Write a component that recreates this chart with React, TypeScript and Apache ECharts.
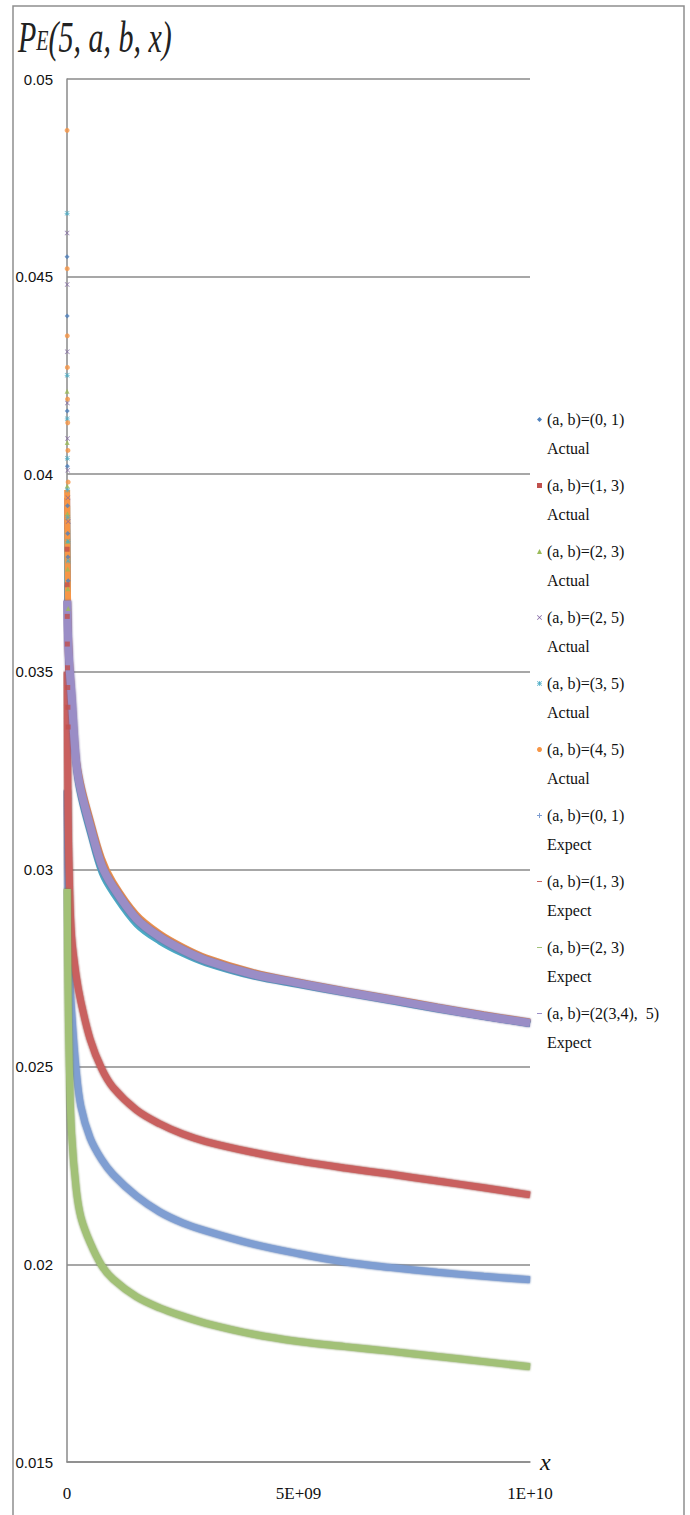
import React, { useEffect, useRef } from 'react';
import * as echarts from 'echarts';

// ---- tick labels ----
const xTickLabels = ['0', '5E+09', '1E+10'];
const yTickLabels = ['0.015', '0.02', '0.025', '0.03', '0.035', '0.04', '0.045', '0.05'];

// ---- legend labels ----
const pairLabels = [
  '(a, b)=(0, 1)', '(a, b)=(1, 3)', '(a, b)=(2, 3)', '(a, b)=(2, 5)', '(a, b)=(3, 5)', '(a, b)=(4, 5)',
  '(a, b)=(0, 1)', '(a, b)=(1, 3)', '(a, b)=(2, 3)', '(a, b)=(2(3,4),  5)',
];
const kindLabels = ['Actual', 'Actual', 'Actual', 'Actual', 'Actual', 'Actual', 'Expect', 'Expect', 'Expect', 'Expect'];

// ---- x positions ----
const xEarly = [2e6, 4e6, 6e6, 8e6, 1.2e7, 1.6e7, 2e7, 2.5e7];
const xActual = [3e6, 1e7, 3e7, 6e7, 1e8, 2e8, 3e8, 5e8, 7.5e8, 1e9, 1.5e9, 2e9, 2.5e9, 3e9, 4e9, 5e9, 6e9, 7e9, 8e9, 9e9, 1e10];
const xExpect = [5e6, 2e7, 5e7, 1e8, 2e8, 3e8, 5e8, 7.5e8, 1e9, 1.5e9, 2e9, 2.5e9, 3e9, 4e9, 5e9, 6e9, 7e9, 8e9, 9e9, 1e10];

// ---- scattered early actual points (near x = 0) ----
const early01 = [0.0455, 0.0440, 0.0416, 0.0402, 0.0392, 0.0385, 0.0379, 0.0373];
const early13 = [0.0381, 0.0372, 0.0364, 0.0357, 0.0351, 0.0346, 0.0341, 0.0336];
const early23 = [0.0421, 0.0408, 0.0397, 0.0390, 0.0383, 0.0376, 0.0371, 0.0366];
const early25 = [0.0461, 0.0448, 0.0431, 0.0418, 0.0409, 0.0401, 0.0394, 0.0388];
const early35 = [0.0466, 0.0425, 0.0414, 0.0404, 0.0396, 0.0389, 0.0383, 0.0378];
const early45 = [0.0487, 0.0452, 0.0435, 0.0427, 0.0419, 0.0413, 0.0406, 0.0398];

// ---- actual curves ----
const actual01 = [0.0388, 0.0372, 0.0358, 0.0349, 0.0343, 0.0326, 0.0319, 0.0310, 0.0300, 0.02948, 0.02870, 0.02825, 0.02793, 0.02767, 0.02733, 0.02710, 0.02688, 0.02668, 0.02647, 0.02627, 0.02609];
const actual13 = [0.0372, 0.0360, 0.0350, 0.0345, 0.0342, 0.0326, 0.0319, 0.0310, 0.0300, 0.02950, 0.02872, 0.02827, 0.02794, 0.02768, 0.02734, 0.02711, 0.02689, 0.02669, 0.02648, 0.02628, 0.02610];
const actual23 = [0.0392, 0.0376, 0.0361, 0.0351, 0.0344, 0.0327, 0.0320, 0.0311, 0.0301, 0.02955, 0.02875, 0.02829, 0.02796, 0.02770, 0.02735, 0.02712, 0.02690, 0.02670, 0.02649, 0.02629, 0.02611];
const actual25 = [0.0394, 0.0378, 0.0362, 0.0352, 0.0344, 0.0328, 0.0321, 0.0312, 0.0302, 0.02958, 0.02878, 0.02832, 0.02798, 0.02772, 0.02737, 0.02714, 0.02692, 0.02672, 0.02651, 0.02631, 0.02613];
const actual35 = [0.0386, 0.0370, 0.0356, 0.0347, 0.0342, 0.0325, 0.0318, 0.0309, 0.0299, 0.02938, 0.02860, 0.02817, 0.02786, 0.02762, 0.02729, 0.02707, 0.02686, 0.02666, 0.02645, 0.02626, 0.02608];
const actual45 = [0.0396, 0.0380, 0.0364, 0.0354, 0.0346, 0.0329, 0.0322, 0.0313, 0.0303, 0.02968, 0.02886, 0.02838, 0.02804, 0.02777, 0.02741, 0.02716, 0.02694, 0.02674, 0.02653, 0.02633, 0.02615];

// ---- expected curves ----
const expect01 = [0.0320, 0.0296, 0.0276, 0.0264, 0.0249, 0.0240, 0.0232, 0.02265, 0.02227, 0.02173, 0.02133, 0.02105, 0.02085, 0.02052, 0.02027, 0.02006, 0.01992, 0.01980, 0.01970, 0.01961];
const expect13 = [0.0350, 0.0318, 0.0298, 0.0283, 0.0273, 0.02665, 0.02570, 0.02495, 0.02447, 0.02391, 0.02356, 0.0233, 0.02311, 0.02284, 0.02262, 0.02244, 0.02228, 0.02211, 0.02194, 0.02176];
const expect23 = [0.0295, 0.0272, 0.0250, 0.0233, 0.0219, 0.0212, 0.02055, 0.01997, 0.01962, 0.01918, 0.01890, 0.01869, 0.01851, 0.01824, 0.01805, 0.01792, 0.01780, 0.01767, 0.01754, 0.01741];
const expect2345 = [0.0368, 0.0360, 0.0352, 0.0344, 0.0327, 0.0320, 0.0311, 0.0301, 0.02955, 0.02875, 0.02829, 0.02796, 0.02770, 0.02735, 0.02712, 0.02690, 0.02670, 0.02649, 0.02629, 0.02611];

const actualCurves = [actual01, actual13, actual23, actual25, actual35, actual45];
const earlyPoints = [early01, early13, early23, early25, early35, early45];
const expectCurves = [expect01, expect13, expect23, expect2345];

const xPath = 'path://M1,0L5,4L9,0L10,1L6,5L10,9L9,10L5,6L1,10L0,9L4,5L0,1Z';
const plusPath = 'path://M4,0H6V4H10V6H6V10H4V6H0V4H4Z';
const starPath = 'path://M4.3,0H5.7V10H4.3Z M0,4.3H10V5.7H0Z M1,0L5,4L9,0L10,1L6,5L10,9L9,10L5,6L1,10L0,9L4,5L0,1Z';
const dashPath = 'path://M0,4H10V6H0Z';

const actualColors = ['#4f81bd', '#c0504d', '#9bbb59', '#8064a2', '#4bacc6', '#f79646'];
const actualSymbols = ['diamond', 'rect', 'triangle', xPath, starPath, 'circle'];
const expectColors = ['#7f9ed2', '#c9615e', '#a2c177', '#9a8dc6'];
const expectEdge = ['#4d6fa8', '#8e2f2c', '#6f8d45', '#6b5c98'];
const expectSymbols = [plusPath, dashPath, dashPath, dashPath];
const expectWidths = [7, 7, 7, 8];

const SERIF = '"Liberation Serif", "Times New Roman", serif';
const SANS = '"Liberation Sans", Arial, sans-serif';

// first (blank) line keeps the legend marker level with the first text line
const seriesNames = pairLabels.map((p, i) => p + '\n' + kindLabels[i]);

export default function App() {
  const ref = useRef<HTMLDivElement>(null);

  useEffect(() => {
    if (!ref.current) return;
    const chart = echarts.init(ref.current, undefined, { renderer: 'svg' });

    const series: any[] = [];
    actualCurves.forEach((vals, i) => {
      series.push({
        name: seriesNames[i],
        type: 'line',
        data: xActual.map((x, k) => [x, vals[k]]),
        showSymbol: false,
        smooth: 0.35,
        lineStyle: { color: actualColors[i], width: 6 },
        itemStyle: { color: actualColors[i] },
        z: 2,
      });
    });
    expectCurves.forEach((vals, i) => {
      series.push({
        name: seriesNames[6 + i],
        type: 'line',
        data: xExpect.map((x, k) => [x, vals[k]]),
        showSymbol: false,
        smooth: 0.35,
        lineStyle: { color: expectColors[i], width: expectWidths[i], shadowColor: expectEdge[i], shadowBlur: 2 },
        itemStyle: { color: expectColors[i] },
        z: 3,
      });
    });
    earlyPoints.forEach((vals, i) => {
      series.push({
        name: seriesNames[i],
        type: 'scatter',
        data: xEarly.map((x, k) => [x, vals[k]]),
        symbol: actualSymbols[i],
        symbolSize: 5,
        itemStyle: { color: actualColors[i] },
        z: 4,
      });
    });

    const legendData = seriesNames.map((name, i) => ({
      name,
      icon: i < 6 ? actualSymbols[i] : expectSymbols[i - 6],
      itemStyle: { color: i < 6 ? actualColors[i] : expectColors[i - 6] },
    }));

    chart.setOption({
      animation: false,
      backgroundColor: '#ffffff',
      grid: { left: 67, right: 160, top: 79, bottom: 53, containLabel: false },
      xAxis: {
        type: 'value',
        min: 0,
        max: 1e10,
        interval: 5e9,
        name: 'x',
        nameLocation: 'end',
        nameGap: 10,
        nameTextStyle: { fontFamily: SERIF, fontStyle: 'italic', fontSize: 24, color: '#111', verticalAlign: 'middle' },
        axisLine: { show: true, onZero: false, lineStyle: { color: '#8a8a8a', width: 1.5 } },
        axisTick: { show: false },
        splitLine: { show: false },
        axisLabel: {
          margin: 23,
          fontFamily: SERIF,
          fontSize: 17,
          color: '#111',
          formatter: (v: number) => xTickLabels[Math.round(v / 5e9)] ?? '',
        },
      },
      yAxis: {
        type: 'value',
        min: 0.015,
        max: 0.05,
        interval: 0.005,
        axisLine: { show: true, lineStyle: { color: '#8a8a8a', width: 1.5 } },
        axisTick: { show: false },
        splitLine: { show: true, lineStyle: { color: '#8a8a8a', width: 1.5 } },
        axisLabel: {
          margin: 14,
          fontFamily: SANS,
          fontSize: 15,
          color: '#111',
          formatter: (v: number) => yTickLabels[Math.round((v - 0.015) / 0.005)] ?? '',
        },
      },
      legend: {
        orient: 'vertical',
        left: 537,
        top: 376,
        padding: 0,
        itemGap: -21,
        itemWidth: 5,
        itemHeight: 5,
        selectedMode: false,
        formatter: (name: string) => '\n' + name,
        textStyle: {
          fontFamily: SERIF,
          fontSize: 16,
          color: '#111',
          lineHeight: 29,
        },
        data: legendData,
      },
      graphic: [
        {
          type: 'rect',
          silent: true,
          shape: { x: 13, y: 6, width: 671, height: 1540 },
          style: { fill: 'none', stroke: '#8e8e8e', lineWidth: 1.5 },
        },
        {
          type: 'text',
          silent: true,
          x: 18,
          y: 59,
          scaleY: 1.5,
          style: {
            text: '{p|P}{e|E}{r|(5, a, b, x)}',
            verticalAlign: 'bottom',
            align: 'left',
            rich: {
              p: { fontFamily: SERIF, fontStyle: 'italic', fontSize: 30, lineHeight: 30, verticalAlign: 'bottom', fill: '#222' },
              e: { fontFamily: SERIF, fontStyle: 'italic', fontSize: 20, lineHeight: 20, verticalAlign: 'bottom', fill: '#222', padding: [0, 0, 3, 0] },
              r: { fontFamily: SERIF, fontStyle: 'italic', fontSize: 30, lineHeight: 30, verticalAlign: 'bottom', fill: '#222' },
            },
          },
        },
      ],
      series,
    });

    return () => chart.dispose();
  }, []);

  return (
    <div
      ref={ref}
      style={{ position: 'absolute', left: 0, top: 0, width: 690, height: 1515, background: '#fff' }}
    />
  );
}
